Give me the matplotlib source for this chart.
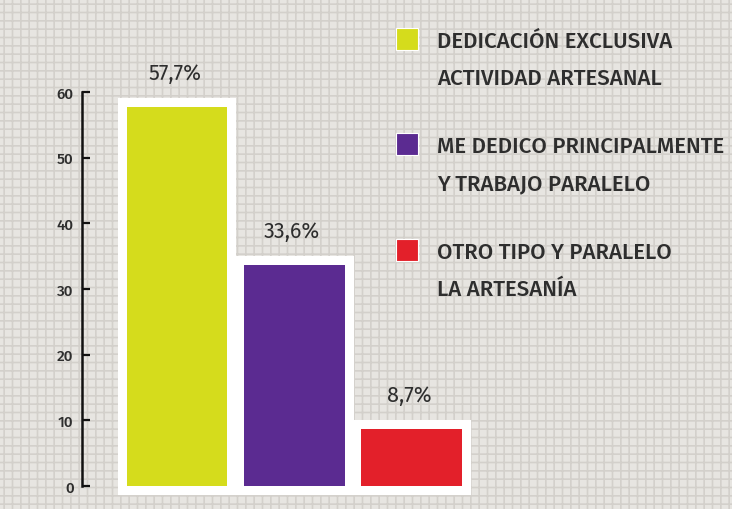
import matplotlib
matplotlib.use("Agg")
import matplotlib.pyplot as plt
import matplotlib.patheffects as pe
from matplotlib.patches import Rectangle

categories = ["DEDICACIÓN EXCLUSIVA\nACTIVIDAD ARTESANAL",
              "ME DEDICO PRINCIPALMENTE\nY TRABAJO PARALELO",
              "OTRO TIPO Y PARALELO\nLA ARTESANÍA"]
values = [57.7, 33.6, 8.7]
value_labels = ["57,7%", "33,6%", "8,7%"]
colors = ["#d5dc1c", "#5b2b91", "#e3202a"]
yticks = [0, 10, 20, 30, 40, 50, 60]

plt.rcParams['font.family'] = ['Fira Sans', 'Fira Sans Condensed', 'PT Sans',
                               'Liberation Sans', 'DejaVu Sans']
plt.rcParams['hatch.linewidth'] = 1.2
text_color = "#2e2e2e"

fig = plt.figure(figsize=(7.32, 5.10), dpi=100)
fig.patch.set_facecolor("#e4e2de")
bg = Rectangle((0, 0), 1, 1, transform=fig.transFigure, facecolor="#e7e5e1",
               edgecolor="#d3d0cb", hatch="++", linewidth=0, zorder=-10)
fig.patches.append(bg)

ax = fig.add_axes([82/732, (510-487)/510, 400/732, (487-93)/510])
ax.set_facecolor("none")
x = list(range(len(values)))
bars = ax.bar(x, values, width=0.86, color=colors, zorder=3, clip_on=False)
for b in bars:
    b.set_path_effects([pe.Stroke(linewidth=13, foreground="white", joinstyle="miter"),
                        pe.Normal()])

for xi, v, lab in zip(x, values, value_labels):
    ax.text(xi - 0.02, v + 5.2, lab, ha="center", va="center", fontsize=15.5,
            color=text_color)

ax.set_xlim(-0.81, 2.6)
ax.set_ylim(0, 60)
ax.set_yticks(yticks)
ax.set_yticklabels([str(t) for t in yticks], fontsize=11, color=text_color,
                   fontweight="medium")
ax.tick_params(axis="y", direction="in", length=6, width=1.6, color="#111111", pad=6)
ax.set_xticks([])
for s in ["top", "right", "bottom"]:
    ax.spines[s].set_visible(False)
ax.spines["left"].set_linewidth(1.8)
ax.spines["left"].set_color("#111111")

# legend
leg_y = [40, 145, 251]
for c, cat, yy in zip(colors, categories, leg_y):
    fy = 1 - yy / 510
    fig.patches.append(Rectangle((396/732, fy - 11/510), 22/732, 22/510,
                                 transform=fig.transFigure, facecolor=c,
                                 edgecolor="white", linewidth=0.8))
    for i, line in enumerate(cat.split("\n")):
        fig.text(437/732, 1 - (yy + 37 * i) / 510, line, ha="left", va="center_baseline",
                 fontsize=16, color=text_color, fontweight="medium")

fig.savefig("out.png", dpi=100, facecolor=fig.get_facecolor())
